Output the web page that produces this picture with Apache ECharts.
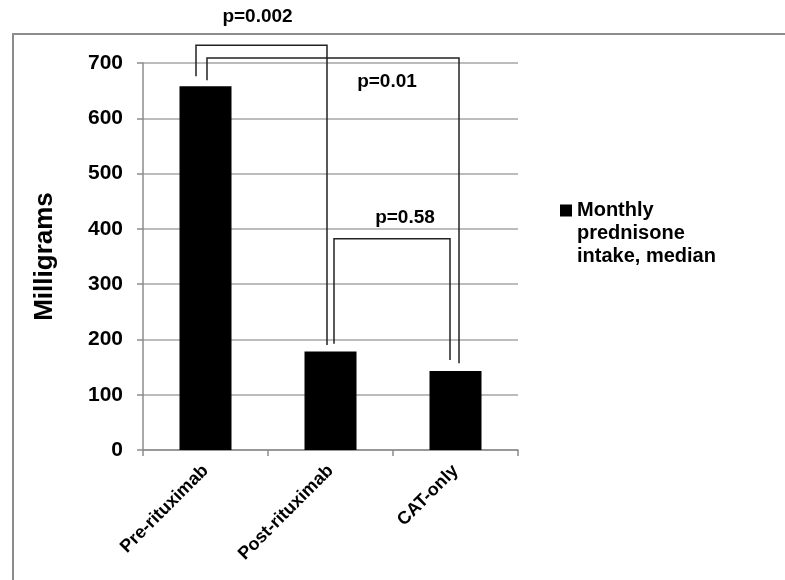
<!DOCTYPE html>
<html>
<head>
<meta charset="utf-8">
<script src="https://cdn.jsdelivr.net/npm/echarts@6/dist/echarts.min.js"></script>
<style>
  html, body { margin: 0; padding: 0; background: #fff; }
  #chart { width: 785px; height: 580px; }
</style>
</head>
<body>
<div id="chart"></div>
<script>
// 月間プレドニゾン摂取量（中央値）の棒グラフと有意差ブラケット
const categories = ['Pre-rituximab', 'Post-rituximab', 'CAT-only'];
const medianIntake = [658, 178, 143];
const yTicks = [0, 100, 200, 300, 400, 500, 600, 700];

// ブラケット: 比較する2群、上辺の高さ、左右の脚の下端（すべて mg の値）
const bracketPairs = [[0, 1], [0, 2], [1, 2]];
const bracketTop = [732, 709, 382];
const bracketLeftEnd = [676, 669, 192];
const bracketRightEnd = [190, 157, 163];
const pLabels = ['p=0.002', 'p=0.01', 'p=0.58'];

// 見た目の調整（ピクセル）
const bracketDx = [[-9.5, -3.5], [1.5, 3.5], [3.5, -5.5]];
const labelOffset = [[-4, -29], [54, 24], [13, -21]];

const chart = echarts.init(document.getElementById('chart'), null, { renderer: 'canvas' });
const font = 'Arial, "Liberation Sans", sans-serif';

// 凡例アイコンを1行目の高さに置くため、下に極小の点を足したパスで縦長の枠を作る
const legendIcon = 'path://M0,0H12V12H0Z M0,57.99H0.01V58H0Z';

chart.setOption({
  animation: false,
  backgroundColor: '#fff',
  textStyle: { fontFamily: font },
  graphic: [{
    type: 'rect',
    z: -10,
    shape: { x: 13, y: 34, width: 900, height: 700 },
    style: { fill: null, stroke: '#8c8c8c', lineWidth: 2 },
  }],
  grid: { left: 143, right: 267, top: 63, bottom: 130 },
  legend: {
    data: ['Monthly\nprednisone\nintake, median'],
    left: 560,
    top: 199,
    padding: 0,
    itemWidth: 12,
    itemHeight: 58,
    icon: legendIcon,
    selectedMode: false,
    textStyle: {
      fontFamily: font,
      fontWeight: 'bold',
      fontSize: 20,
      lineHeight: 23,
      color: '#000',
    },
  },
  xAxis: {
    type: 'category',
    data: categories,
    axisLine: { lineStyle: { color: '#8c8c8c', width: 1.5 } },
    axisTick: { show: true, length: 6, lineStyle: { color: '#8c8c8c', width: 1.5 } },
    axisLabel: {
      rotate: 45,
      margin: 18,
      interval: 0,
      fontFamily: font,
      fontWeight: 'bold',
      fontSize: 18,
      color: '#000',
    },
  },
  yAxis: {
    type: 'value',
    min: yTicks[0],
    max: yTicks[yTicks.length - 1],
    interval: yTicks[1] - yTicks[0],
    name: 'Milligrams',
    nameLocation: 'middle',
    nameGap: 85,
    nameTextStyle: { fontFamily: font, fontWeight: 'bold', fontSize: 26, color: '#000' },
    axisLine: { show: true, lineStyle: { color: '#8c8c8c', width: 1.5 } },
    axisTick: { show: true, length: 6, lineStyle: { color: '#8c8c8c', width: 1.5 } },
    axisLabel: { margin: 20, fontFamily: font, fontWeight: 'bold', fontSize: 21, color: '#000' },
    splitLine: { lineStyle: { color: '#a6a6a6', width: 1.5 } },
  },
  series: [
    {
      name: 'Monthly\nprednisone\nintake, median',
      type: 'bar',
      data: medianIntake,
      barWidth: 52,
      itemStyle: { color: '#000' },
    },
    {
      type: 'custom',
      clip: false,
      z: 5,
      data: bracketPairs.map((p, i) => [p[0], p[1], bracketTop[i], bracketLeftEnd[i], bracketRightEnd[i]]),
      renderItem(params, api) {
        const i = params.dataIndex;
        const a = api.value(0);
        const b = api.value(1);
        const xa = api.coord([a, 0])[0] + bracketDx[i][0];
        const xb = api.coord([b, 0])[0] + bracketDx[i][1];
        const yTop = api.coord([a, api.value(2)])[1];
        const yL = api.coord([a, api.value(3)])[1];
        const yR = api.coord([b, api.value(4)])[1];
        return {
          type: 'group',
          children: [
            {
              type: 'polyline',
              shape: { points: [[xa, yL], [xa, yTop], [xb, yTop], [xb, yR]] },
              style: { stroke: '#222', lineWidth: 1.5, fill: null },
            },
            {
              type: 'text',
              x: (xa + xb) / 2 + labelOffset[i][0],
              y: yTop + labelOffset[i][1],
              style: {
                text: pLabels[i],
                fill: '#000',
                font: 'bold 19px ' + font,
                align: 'center',
                verticalAlign: 'middle',
              },
            },
          ],
        };
      },
    },
  ],
});

window.addEventListener('resize', () => chart.resize());
</script>
</body>
</html>
